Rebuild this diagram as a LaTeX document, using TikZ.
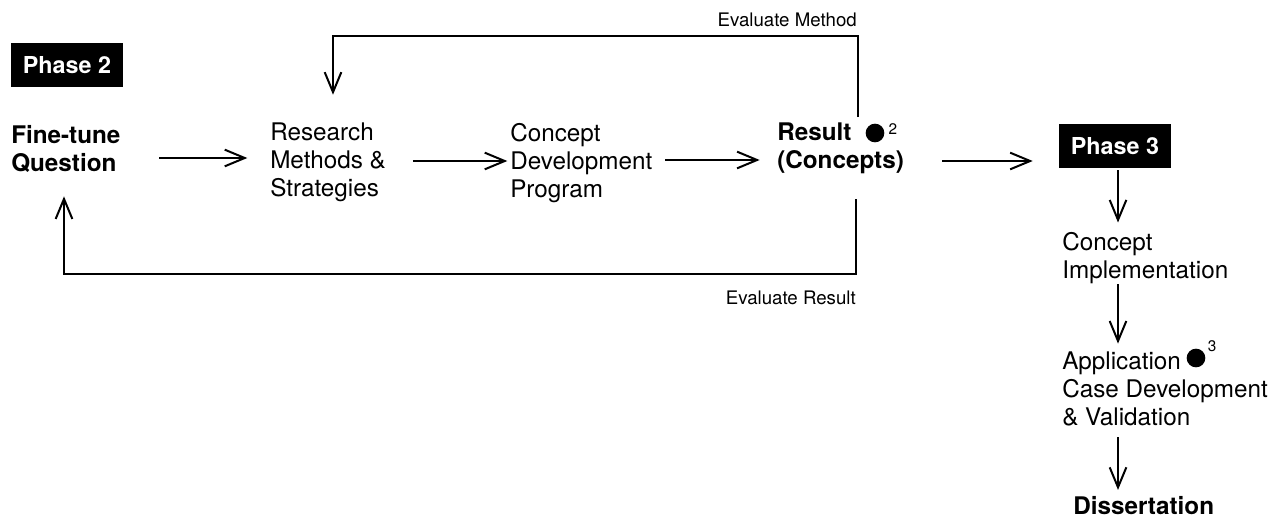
\documentclass[tikz,border=0pt]{standalone}
\usepackage{fontspec}
\setmainfont{TeX Gyre Heros}
\usetikzlibrary{arrows.meta}
\begin{document}
\begin{tikzpicture}[x=0.75pt,y=-0.75pt,
  txt/.style={anchor=west, inner sep=0pt, align=left, font=\fontsize{18.2}{21}\selectfont},
  btxt/.style={txt, font=\fontsize{18.2}{21}\selectfont\bfseries},
  small/.style={inner sep=0pt, font=\fontsize{14}{16}\selectfont},
  phase/.style={fill=black, text=white, inner sep=0pt, minimum width=84pt, minimum height=33pt, font=\fontsize{17.5}{20}\selectfont\bfseries},
  dot/.style={circle, fill=black, inner sep=0pt, minimum size=14pt},
  sup/.style={inner sep=0pt, font=\fontsize{11.5}{13}\selectfont},
  arr/.style={line width=1.5pt, -{Straight Barb[length=15pt, width=12.5pt, line width=1.5pt]}},
  ln/.style={line width=1.5pt}]
\useasboundingbox (0,0) rectangle (1278,518);
% nodes
\node[phase] (p2) at (67,65) {Phase 2};
\node[btxt] (fine) at (11,148.5) {Fine-tune\\Question};
\node[txt] (research) at (270,162.5) {Research\\Methods \&\\Strategies};
\node[txt] (concept) at (510,163) {Concept\\Development\\Program};
\node[btxt] (result) at (777,148) {Result\\(Concepts)};
\node[dot] (d2) at (875,133) {};
\node[sup] (s2) at (893,129) {2};
\node[phase] (p3) at (1115,146) {Phase 3};
\node[txt] (impl) at (1062,258.5) {Concept\\Implementation};
\node[txt] (app) at (1062,389) {Application\\Case Development\\\& Validation};
\node[dot] (d3) at (1196,358) {};
\node[sup] (s3) at (1212,346) {3};
\node[btxt] (diss) at (1073,506) {Dissertation};
\node[small, anchor=east] (em) at (857,20) {Evaluate Method};
\node[small, anchor=east] (er) at (856,298) {Evaluate Result};
\coordinate (tl1) at (858,117);
\coordinate (bl1) at (856,199);
% horizontal arrows
\draw[arr, shorten <=29pt, shorten >=17pt] (fine.east |- 0,158) -- (research.west |- 0,158);
\draw[arr, shorten <=20pt, shorten >=2pt] (research.east |- 0,161) -- (concept.west |- 0,161);
\draw[arr, shorten <=9.3pt, shorten >=13pt] (concept.east |- 0,160) -- (result.west |- 0,160);
\draw[arr, shorten <=28.5pt, shorten >=19.5pt] (result.east |- 0,161) -- (p3.west |- 0,161);
% loops
\draw[arr, shorten >=21pt] (tl1) -- (tl1 |- 0,36) -| (research.north -| 333,0);
\draw[arr, shorten >=18pt] (bl1) -- (bl1 |- 0,274) -| (fine.south -| 64,0);
% vertical arrows
\draw[arr, shorten <=1.5pt, shorten >=7.5pt] (p3.south -| 1118,0) -- (impl.north -| 1118,0);
\draw[arr, shorten >=6pt] (impl.south -| 1118,0) -- (app.north -| 1118,0);
\draw[arr, shorten <=8pt, shorten >=5pt] (app.south -| 1118,0) -- (diss.north -| 1118,0);
\end{tikzpicture}
\end{document}
